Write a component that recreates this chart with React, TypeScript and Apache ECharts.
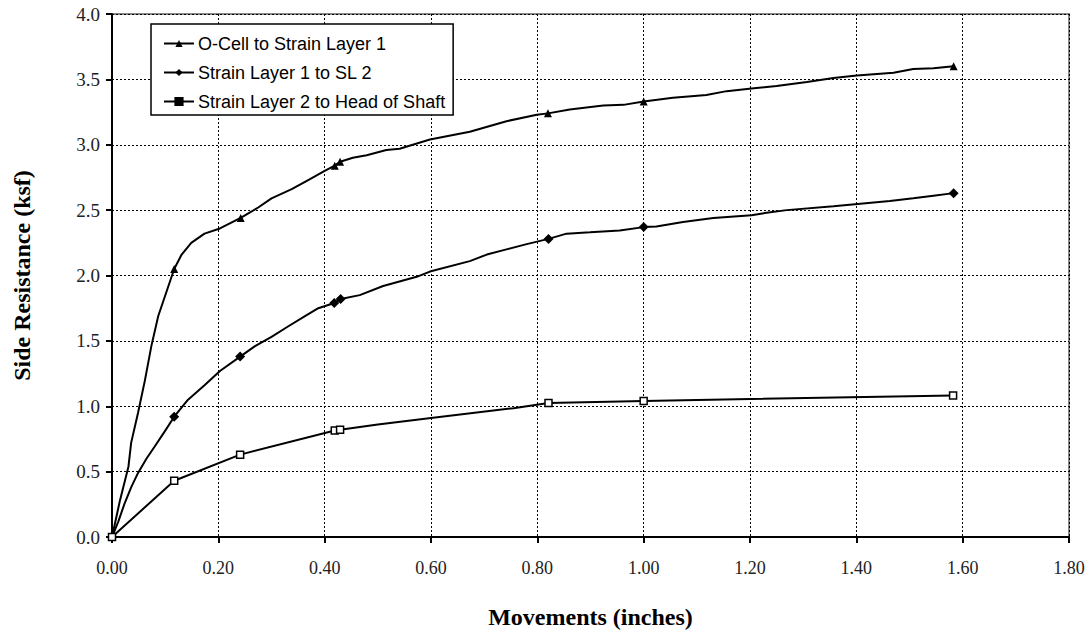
import React, { useEffect, useRef } from "react";
import * as echarts from "echarts";

// ---- Data ----
const seriesNames = [
  "O-Cell to Strain Layer 1",
  "Strain Layer 1 to SL 2",
  "Strain Layer 2 to Head of Shaft",
];

const oCellCurve: [number, number][] = [
  [0, 0], [0.015, 0.28], [0.031, 0.54], [0.036, 0.72], [0.049, 0.95], [0.062, 1.2],
  [0.074, 1.46], [0.087, 1.69], [0.102, 1.87], [0.117, 2.05], [0.131, 2.16],
  [0.149, 2.25], [0.174, 2.32], [0.203, 2.36], [0.242, 2.44], [0.275, 2.52],
  [0.3, 2.59], [0.338, 2.66], [0.369, 2.73], [0.4, 2.8], [0.419, 2.84], [0.429, 2.87],
  [0.453, 2.9], [0.479, 2.92], [0.516, 2.96], [0.541, 2.97], [0.598, 3.04],
  [0.673, 3.1], [0.742, 3.18], [0.799, 3.23], [0.82, 3.24], [0.861, 3.27],
  [0.924, 3.3], [0.962, 3.305], [1.0, 3.33], [1.055, 3.36], [1.118, 3.38],
  [1.156, 3.41], [1.203, 3.43], [1.25, 3.45], [1.307, 3.48], [1.357, 3.51],
  [1.401, 3.53], [1.47, 3.55], [1.507, 3.58], [1.545, 3.585], [1.583, 3.6],
];
const oCellMarkers = [0, 0.117, 0.242, 0.419, 0.429, 0.82, 1.0, 1.583];

const layer1Curve: [number, number][] = [
  [0, 0], [0.012, 0.12], [0.024, 0.26], [0.036, 0.38], [0.049, 0.49], [0.065, 0.6],
  [0.08, 0.69], [0.098, 0.8], [0.117, 0.92], [0.143, 1.05], [0.174, 1.16],
  [0.203, 1.27], [0.241, 1.38], [0.269, 1.46], [0.3, 1.53], [0.331, 1.61],
  [0.363, 1.69], [0.388, 1.75], [0.418, 1.79], [0.43, 1.82], [0.466, 1.85],
  [0.51, 1.92], [0.573, 1.99], [0.598, 2.03], [0.673, 2.11], [0.705, 2.16],
  [0.742, 2.2], [0.78, 2.24], [0.821, 2.28], [0.855, 2.32], [0.899, 2.33],
  [0.955, 2.345], [1.0, 2.37], [1.024, 2.375], [1.074, 2.41], [1.131, 2.44],
  [1.203, 2.46], [1.231, 2.48], [1.269, 2.5], [1.357, 2.53], [1.463, 2.57],
  [1.507, 2.59], [1.545, 2.61], [1.583, 2.63],
];
const layer1Markers = [0, 0.117, 0.241, 0.418, 0.43, 0.821, 1.0, 1.583];

const layer2Curve: [number, number][] = [
  [0, 0], [0.117, 0.43], [0.241, 0.63], [0.419, 0.815], [0.429, 0.82], [0.5, 0.86],
  [0.6, 0.91], [0.755, 0.985], [0.821, 1.025], [1.0, 1.04], [1.582, 1.083],
];
const layer2Markers = [0, 0.117, 0.241, 0.419, 0.429, 0.821, 1.0, 1.582];

const xTicks = [0, 0.2, 0.4, 0.6, 0.8, 1.0, 1.2, 1.4, 1.6, 1.8];
const yTicks = [0, 0.5, 1.0, 1.5, 2.0, 2.5, 3.0, 3.5, 4.0];

const serif = "'Liberation Serif', 'Times New Roman', serif";
const sans = "'Liberation Sans', Arial, sans-serif";

function toData(curve: [number, number][], markers: number[]) {
  return curve.map(([x, y]) =>
    markers.includes(x) ? { value: [x, y] } : { value: [x, y], symbol: "none" }
  );
}

export default function App() {
  const ref = useRef<HTMLDivElement>(null);
  useEffect(() => {
    if (!ref.current) return;
    const chart = echarts.init(ref.current, undefined, { renderer: "svg" });
    const gridLine = { show: true, lineStyle: { color: "#000", type: [2, 2] as any, width: 1 } };
    chart.setOption({
      animation: false,
      backgroundColor: "#fff",
      grid: {
        left: 112, right: 23, top: 14, bottom: 97,
        show: true, borderColor: "#888", borderWidth: 2, backgroundColor: "transparent",
      },
      legend: {
        orient: "vertical",
        left: 151,
        top: 24,
        padding: [10, 8, 4, 12],
        itemGap: 10,
        itemWidth: 30,
        itemHeight: 9,
        backgroundColor: "#fff",
        borderColor: "#000",
        borderWidth: 1.5,
        borderRadius: 0,
        textStyle: { fontFamily: sans, fontSize: 18, color: "#000", lineHeight: 19, padding: [0, 0, 0, -1] },
        data: [
          { name: seriesNames[0] },
          { name: seriesNames[1] },
          { name: seriesNames[2], itemStyle: { color: "#000", borderColor: "#000" } },
        ],
      },
      xAxis: {
        type: "value",
        min: xTicks[0],
        max: xTicks[xTicks.length - 1],
        interval: 0.2,
        name: "Movements (inches)",
        nameLocation: "middle",
        nameGap: 68,
        nameTextStyle: { fontFamily: serif, fontSize: 24, fontWeight: "bold", color: "#000" },
        axisLine: { show: true, lineStyle: { color: "#000", width: 2 } },
        axisTick: { show: true, length: 6, lineStyle: { color: "#000", width: 2 } },
        axisLabel: {
          fontFamily: serif, fontSize: 18, color: "#222", margin: 22,
          formatter: (v: number) => v.toFixed(2),
        },
        splitLine: gridLine,
      },
      yAxis: {
        type: "value",
        min: yTicks[0],
        max: yTicks[yTicks.length - 1],
        interval: 0.5,
        name: "Side Resistance (ksf)",
        nameLocation: "middle",
        nameGap: 78,
        nameTextStyle: { fontFamily: serif, fontSize: 24, fontWeight: "bold", color: "#000" },
        axisLine: { show: true, lineStyle: { color: "#000", width: 2 } },
        axisTick: { show: true, length: 6, lineStyle: { color: "#000", width: 2 } },
        axisLabel: {
          fontFamily: serif, fontSize: 19, color: "#222", margin: 12,
          formatter: (v: number) => v.toFixed(1),
        },
        splitLine: gridLine,
      },
      series: [
        {
          name: seriesNames[0],
          type: "line",
          symbol: "triangle",
          symbolSize: 8,
          showAllSymbol: true,
          lineStyle: { color: "#000", width: 2 },
          itemStyle: { color: "#000" },
          data: toData(oCellCurve, oCellMarkers),
          z: 5,
        },
        {
          name: seriesNames[1],
          type: "line",
          symbol: "diamond",
          symbolSize: 10,
          showAllSymbol: true,
          lineStyle: { color: "#000", width: 2 },
          itemStyle: { color: "#000" },
          data: toData(layer1Curve, layer1Markers),
          z: 5,
        },
        {
          name: seriesNames[2],
          type: "line",
          symbol: "rect",
          symbolSize: 7,
          showAllSymbol: true,
          lineStyle: { color: "#000", width: 2 },
          itemStyle: { color: "#fff", borderColor: "#000", borderWidth: 1.5 },
          data: toData(layer2Curve, layer2Markers),
          z: 5,
        },
      ],
    });
    return () => chart.dispose();
  }, []);
  return <div ref={ref} style={{ width: 1092, height: 634, position: "absolute", left: 0, top: 0 }} />;
}
